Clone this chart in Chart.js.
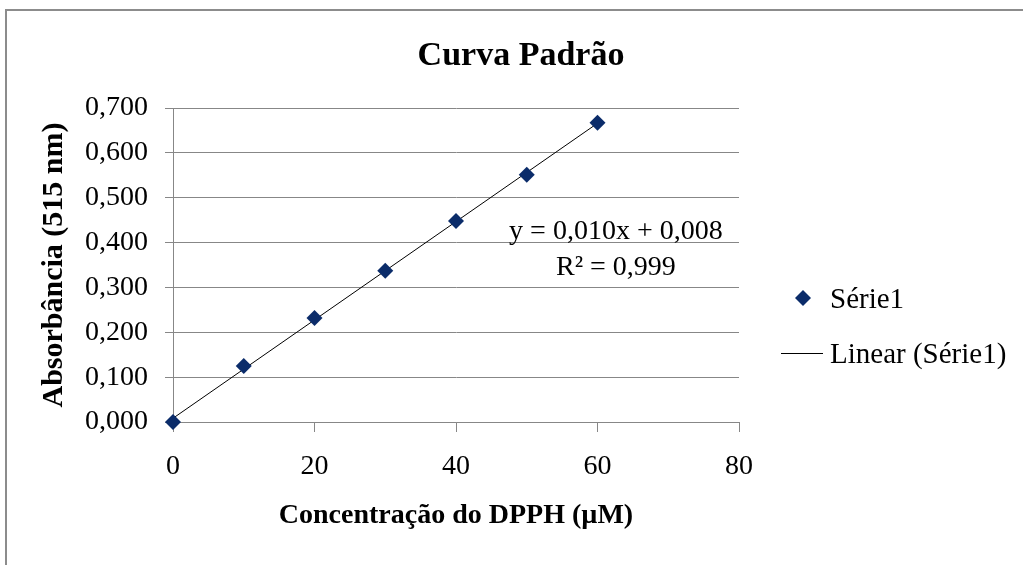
<!DOCTYPE html>
<html>
<head>
<meta charset="utf-8">
<script src="https://cdn.jsdelivr.net/npm/chart.js@4/dist/chart.umd.min.js"></script>
<style>
  html, body { margin: 0; padding: 0; background: #fff; overflow: hidden; }
  #frame {
    position: absolute; top: 9px; left: 5px; width: 1100px; height: 600px;
    border-top: 2px solid #8c8c8c; border-left: 2px solid #8c8c8c;
  }
  #chart { position: absolute; top: 0; left: 0; }
  #title {
    position: absolute; top: 34px; left: 0; width: 1042px; text-align: center;
    font: bold 34px/40px "Liberation Serif", "Times New Roman", serif; color: #000;
  }
  #legend {
    position: absolute; left: 781px; top: 270px;
    font: 29px "Liberation Serif", "Times New Roman", serif; color: #000;
  }
  #legend .item { display: flex; align-items: center; height: 55px; }
  #legend svg { width: 42px; height: 18px; margin-right: 7px; flex: none; }
  #legend span { line-height: 34px; white-space: nowrap; }
</style>
</head>
<body>
<div id="frame"></div>
<canvas id="chart" width="1023" height="565"></canvas>
<div id="title">Curva Padrão</div>
<div id="legend"></div>
<script>
// concentration (µM) and absorbance
const concentrations = [0, 10, 20, 30, 40, 50, 60];
const absorbances = [0.000, 0.125, 0.232, 0.337, 0.448, 0.551, 0.667];
const xTicks = [0, 20, 40, 60, 80];
const yTicks = [0, 0.1, 0.2, 0.3, 0.4, 0.5, 0.6, 0.7];
const equationLines = ['y = 0,010x + 0,008', 'R² = 0,999'];

const navy = '#0b2c6a';
const gridGray = '#878787';

// least squares trendline through the points
const n = concentrations.length;
const mx = concentrations.reduce((a, b) => a + b, 0) / n;
const my = absorbances.reduce((a, b) => a + b, 0) / n;
let sxy = 0, sxx = 0;
concentrations.forEach((x, i) => { sxy += (x - mx) * (absorbances[i] - my); sxx += (x - mx) * (x - mx); });
const slope = sxy / sxx;
const intercept = my - slope * mx;
const xMin = Math.min(...concentrations), xMax = Math.max(...concentrations);

const fmt = v => v.toFixed(3).replace('.', ',');

Chart.defaults.font.family = '"Liberation Serif", "Times New Roman", serif';
Chart.defaults.color = '#000';

const equationLabel = {
  id: 'equationLabel',
  afterDatasetsDraw(chart) {
    const {ctx, scales: {x, y}} = chart;
    ctx.save();
    ctx.font = '28px "Liberation Serif"';
    ctx.fillStyle = '#000';
    ctx.textAlign = 'center';
    ctx.textBaseline = 'middle';
    const px = x.getPixelForValue(62.6);
    const py = y.getPixelForValue(0.424);
    equationLines.forEach((t, i) => ctx.fillText(t, px, py + i * 36));
    ctx.restore();
  }
};

const chart = new Chart(document.getElementById('chart'), {
  type: 'scatter',
  data: {
    datasets: [{
      label: 'Série1',
      data: concentrations.map((x, i) => ({x, y: absorbances[i]})),
      pointStyle: 'rectRot',
      pointRadius: 8,
      pointHoverRadius: 8,
      backgroundColor: navy,
      borderColor: navy,
      borderWidth: 0,
      clip: false,
      order: 0
    }, {
      label: 'Linear (Série1)',
      data: [{x: xMin, y: intercept + slope * xMin}, {x: xMax, y: intercept + slope * xMax}],
      showLine: true,
      borderColor: '#000',
      borderWidth: 1,
      pointRadius: 0,
      pointStyle: 'line',
      order: 1
    }]
  },
  options: {
    responsive: false,
    animation: false,
    devicePixelRatio: 1,
    events: [],
    layout: { padding: { left: 20, right: 284, top: 108, bottom: 22 } },
    plugins: {
      tooltip: { enabled: false },
      legend: { display: false }
    },
    scales: {
      x: {
        type: 'linear',
        min: 0,
        max: 80,
        afterBuildTicks: s => { s.ticks = xTicks.map(v => ({value: v})); },
        afterFit: s => { s.height = 121; },
        grid: { drawOnChartArea: false, drawTicks: true, tickLength: 10, color: gridGray },
        border: { color: gridGray },
        ticks: { padding: 18, font: { size: 28 }, color: '#000', maxRotation: 0 },
        title: {
          display: true,
          text: 'Concentração do DPPH (µM)',
          font: { size: 28, weight: 'bold' },
          color: '#000',
          padding: { top: 0, bottom: 10 }
        }
      },
      y: {
        type: 'linear',
        min: 0,
        max: 0.7,
        afterBuildTicks: s => { s.ticks = yTicks.map(v => ({value: v})); },
        afterFit: s => { s.width = 153; },
        grid: { color: gridGray, tickLength: 8 },
        border: { color: gridGray },
        ticks: { padding: 17, font: { size: 28 }, color: '#000', callback: v => fmt(v) },
        title: {
          display: true,
          text: 'Absorbância (515 nm)',
          font: { size: 30, weight: 'bold' },
          color: '#000',
          padding: { top: 16, bottom: 0 }
        }
      }
    }
  },
  plugins: [equationLabel]
});

// html legend from the chart's datasets
const legendEl = document.getElementById('legend');
chart.data.datasets.forEach(ds => {
  const marker = ds.pointStyle === 'line'
    ? '<svg viewBox="0 0 42 18"><line x1="0" y1="9.5" x2="42" y2="9.5" stroke="' + ds.borderColor + '" stroke-width="1"/></svg>'
    : '<svg viewBox="0 0 42 18"><polygon points="22,1 30,9 22,17 14,9" fill="' + ds.backgroundColor + '"/></svg>';
  const row = document.createElement('div');
  row.className = 'item';
  row.innerHTML = marker + '<span>' + ds.label + '</span>';
  legendEl.appendChild(row);
});
</script>
</body>
</html>
